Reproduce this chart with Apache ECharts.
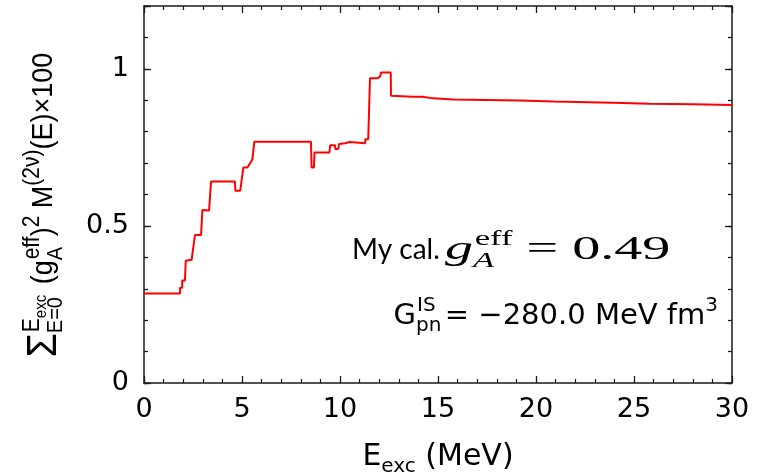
<!DOCTYPE html>
<html>
<head>
<meta charset="utf-8">
<script src="https://cdn.jsdelivr.net/npm/echarts@6/dist/echarts.min.js"></script>
<style>html,body{margin:0;padding:0;background:#fff}#c{width:764px;height:476px}</style>
</head>
<body>
<div id="c"></div>
<script>
// Excitation energy (MeV) of each corner of the running sum
const energy = [0, 1.84, 1.84, 1.95, 1.95, 2.09, 2.13, 2.43, 2.6, 2.91, 2.98, 3.32, 3.42, 4.64, 4.66, 4.91, 5.07, 5.27, 5.41, 5.53, 5.63, 8.52, 8.55, 8.67, 8.7, 9.46, 9.5, 9.74, 9.76, 9.91, 9.95, 10.26, 10.3, 10.48, 10.5, 11.28, 11.3, 11.44, 11.53, 11.9, 11.95, 12.04, 12.1, 12.59, 12.6, 13.7, 14.2, 14.25, 14.75, 15.77, 19.2, 20.9, 23.95, 25.8, 28, 30];
// Running sum (x100)
const runningSum = [0.285, 0.285, 0.303, 0.303, 0.326, 0.326, 0.389, 0.392, 0.471, 0.471, 0.551, 0.549, 0.641, 0.641, 0.612, 0.612, 0.686, 0.686, 0.699, 0.712, 0.768, 0.768, 0.686, 0.686, 0.734, 0.734, 0.757, 0.757, 0.745, 0.745, 0.761, 0.763, 0.767, 0.767, 0.763, 0.763, 0.776, 0.776, 0.970, 0.970, 0.975, 0.975, 0.988, 0.988, 0.914, 0.911, 0.911, 0.914, 0.906, 0.902, 0.899, 0.896, 0.892, 0.889, 0.887, 0.885];
const yTickLabels = [0, 0.5, 1];
const xRange = [0, 30];
const yRange = [0, 1.2];

const data = energy.map((e, i) => [e, runningSum[i]]);
const AX = '#1a1a1a';
const LBL_FONT = 'DejaVu Sans';

function xAxisCfg(pos, showLabel) {
  return {
    type: 'value', position: pos, min: xRange[0], max: xRange[1], interval: 5,
    axisLine: { show: true, onZero: false, lineStyle: { color: AX, width: 1.5 } },
    axisTick: { show: true, inside: true, length: 7, lineStyle: { color: AX, width: 1.3 } },
    minorTick: { show: true, splitNumber: 5, length: 4, lineStyle: { color: AX, width: 1.2 } },
    splitLine: { show: false },
    axisLabel: { show: showLabel, fontFamily: LBL_FONT, fontSize: 27, color: '#000', margin: 13 },
    name: showLabel ? '{a|E}{s|exc}{a| (MeV)}' : '',
    nameLocation: 'middle', nameGap: 54,
    nameTextStyle: { rich: {
      a: { fontFamily: LBL_FONT, fontSize: 30, color: '#000', lineHeight: 40, verticalAlign: 'middle' },
      s: { fontFamily: LBL_FONT, fontSize: 20, color: '#000', lineHeight: 20, verticalAlign: 'bottom' }
    } }
  };
}
function yAxisCfg(pos, interval, len, showLine, showLabel) {
  return {
    type: 'value', position: pos, min: yRange[0], max: yRange[1], interval: interval,
    axisLine: { show: showLine, onZero: false, lineStyle: { color: AX, width: 1.5 } },
    axisTick: { show: true, inside: true, length: len, lineStyle: { color: AX, width: 1.3 } },
    splitLine: { show: false },
    axisLabel: { show: showLabel, fontFamily: LBL_FONT, fontSize: 27, color: '#000', margin: 15,
      formatter: v => { const t = yTickLabels.find(q => Math.abs(q - v) < 1e-9); return t === undefined ? '' : String(t); } }
  };
}

const chart = echarts.init(document.getElementById('c'), null, { renderer: 'canvas' });
chart.setOption({
  animation: false,
  backgroundColor: '#fff',
  grid: { left: 144, right: 32, top: 6, bottom: 93, containLabel: false, outerBoundsMode: 'none' },
  xAxis: [xAxisCfg('bottom', true), xAxisCfg('top', false)],
  yAxis: [
    yAxisCfg('left', 0.1, 4, true, true),
    yAxisCfg('left', 0.5, 7, false, false),
    yAxisCfg('right', 0.1, 4, true, false),
    yAxisCfg('right', 0.5, 7, false, false)
  ],
  series: [{
    type: 'line', xAxisIndex: 0, yAxisIndex: 0, data: data, showSymbol: false,
    lineStyle: { color: '#ff0000', width: 2 }, itemStyle: { color: '#ff0000' }
  }],
  graphic: [
    {
      type: 'text', x: 44, y: 205, rotation: Math.PI / 2, scaleY: 1.1,
      style: {
        text: '{sig|Σ}{sub0|E=0}{sup|E}{supsub|exc}{m| (g}{subA|A}{sup|eff}{m|)}{sup|2}{m| M}{sup|(2ν)}{m|(E)×100}',
        align: 'center', verticalAlign: 'middle', fill: '#000',
        rich: {
          sig: { align: 'left', fontFamily: 'Liberation Sans', fontSize: 39, lineHeight: 42, verticalAlign: 'middle' },
          m: { align: 'left', fontFamily: 'Liberation Sans', fontSize: 27, lineHeight: 42, verticalAlign: 'middle' },
          sup: { align: 'left', fontFamily: 'Liberation Sans', fontSize: 21, lineHeight: 21, verticalAlign: 'top' },
          supsub: { align: 'left', fontFamily: 'Liberation Sans', fontSize: 15, lineHeight: 15, verticalAlign: 'top', padding: [11, 3, 0, 0] },
          sub0: { align: 'left', fontFamily: 'Liberation Sans', fontSize: 20, lineHeight: 20, verticalAlign: 'bottom', width: 1 },
          subA: { align: 'left', fontFamily: 'Liberation Sans', fontSize: 20, lineHeight: 20, verticalAlign: 'bottom', width: 1 }
        }
      }
    },
    {
      type: 'text', x: 352, y: 250,
      style: {
        text: 'My cal.', align: 'left', verticalAlign: 'middle', fill: '#000',
        fontFamily: 'Lato', fontSize: 28
      }
    },
    {
      type: 'text', x: 445, y: 250, scaleX: 1.65,
      style: {
        text: '{g|g}{sA|A}{se|eff}{eq| = 0.49}',
        align: 'left', verticalAlign: 'middle', fill: '#000',
        rich: {
          g: { align: 'left', fontFamily: 'Liberation Serif', fontStyle: 'italic', fontSize: 34, lineHeight: 44, verticalAlign: 'middle' },
          sA: { align: 'left', fontFamily: 'Liberation Serif', fontStyle: 'italic', fontSize: 21, lineHeight: 21, verticalAlign: 'bottom', width: 1 },
          se: { align: 'left', fontFamily: 'Liberation Serif', fontSize: 21, lineHeight: 21, verticalAlign: 'top', padding: [1, 0, 0, 0] },
          eq: { align: 'left', fontFamily: 'Liberation Serif', fontSize: 34, lineHeight: 44, verticalAlign: 'middle' }
        }
      }
    },
    {
      type: 'text', x: 718, y: 316,
      style: {
        text: '{m|G}{sb|pn}{sp|IS}{m| = −280.0 MeV fm}{sp|3}',
        align: 'right', verticalAlign: 'middle', fill: '#000',
        rich: {
          m: { align: 'left', fontFamily: LBL_FONT, fontSize: 29, lineHeight: 40, verticalAlign: 'middle' },
          sb: { align: 'left', fontFamily: LBL_FONT, fontSize: 20, lineHeight: 20, verticalAlign: 'bottom', width: 1 },
          sp: { align: 'left', fontFamily: LBL_FONT, fontSize: 20, lineHeight: 20, verticalAlign: 'top' }
        }
      }
    }
  ]
});
</script>
</body>
</html>
